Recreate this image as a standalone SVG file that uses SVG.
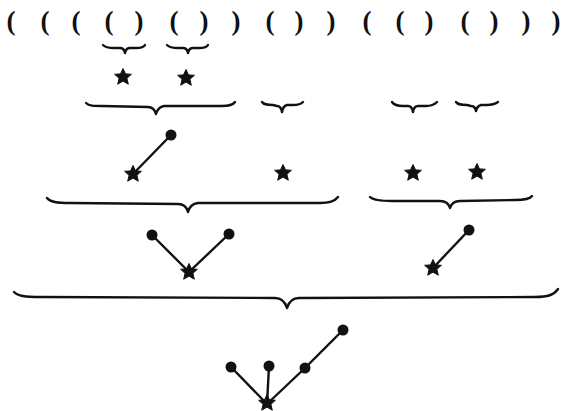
<svg xmlns="http://www.w3.org/2000/svg" width="563" height="411" viewBox="0 0 563 411">
<style>
.p{font-family:"Liberation Serif","DejaVu Serif",serif;font-size:27px;font-weight:bold;fill:#111;text-anchor:middle}
.br{fill:none;stroke:#111;stroke-width:2.4;stroke-linecap:round;stroke-linejoin:round}
.ln{stroke:#111;stroke-width:2.4;stroke-linecap:round}
.ball{fill:#111}
</style>
<defs>
<g id="star">
<polygon points="0,-8.5 2.5,-3.1 8.4,-2.7 3.9,1.3 5.3,7.2 0,4.1 -5.3,7.2 -3.9,1.3 -8.4,-2.7 -2.5,-3.1" fill="#111" stroke="#111" stroke-width="1" stroke-linejoin="round"/>
<circle r="4.3" fill="#111"/>
</g>
</defs>
<g id="parens">
<text class="p" x="11" y="30">(</text>
<text class="p" x="45" y="30">(</text>
<text class="p" x="76" y="30">(</text>
<text class="p" x="109" y="30">(</text>
<text class="p" x="139" y="30">)</text>
<text class="p" x="174" y="30">(</text>
<text class="p" x="204" y="30">)</text>
<text class="p" x="236" y="30">)</text>
<text class="p" x="270" y="30">(</text>
<text class="p" x="299" y="30">)</text>
<text class="p" x="331" y="30">)</text>
<text class="p" x="367" y="30">(</text>
<text class="p" x="400" y="30">(</text>
<text class="p" x="429" y="30">)</text>
<text class="p" x="465" y="30">(</text>
<text class="p" x="494" y="30">)</text>
<text class="p" x="526" y="30">)</text>
<text class="p" x="556" y="30">)</text>
</g>
<g id="braces">
<path class="br" d="M103,45 C105,47 109,48 114,48 L120,48 Q124,48 125,53 Q126,48 130,48 L136,48 C141,48 144,47 145,45"/>
<path class="br" d="M167,45 C169,47 173,48 178,48 L183,48 Q187,48 188,53 Q189,48 193,48 L199,48 C204,48 207,47 208,45"/>
<path class="br" d="M86,103 C89,106 94,106 102,106 L148,107 Q154,107 156,114 Q158,107 164,106 L222,106 C229,106 233,105 235,102"/>
<path class="br" d="M262,102 C264,105 268,105 273,105 L277,106 Q281,106 282,112 Q283,106 287,105 L293,105 C298,105 301,104 303,102"/>
<path class="br" d="M392,102 C394,105 398,106 403,106 L408,106 Q412,106 413,112 Q414,106 418,106 L426,106 C431,106 434,105 437,102"/>
<path class="br" d="M456,102 C458,105 462,105 467,105 L471,106 Q475,106 476,111 Q477,106 481,105 L487,105 C492,105 495,104 498,102"/>
<path class="br" d="M47,198 C50,202 57,203 70,203 L178,204 Q186,204 188,212 Q190,204 198,203 L320,203 C330,203 335,201 338,197"/>
<path class="br" d="M370,197 C373,200 380,201 392,201 L440,201 Q448,201 450,208 Q452,201 460,201 L515,200 C525,200 530,199 532,196"/>
<path class="br" d="M14,292 C18,296 25,297 40,297 L275,298 Q284,298 287,308 Q290,298 299,298 L535,297 C548,297 554,295 558,289"/>
</g>
<g id="connectors">
<line class="ln" x1="133" y1="174" x2="171" y2="135"/>
<line class="ln" x1="189" y1="272" x2="152" y2="235"/>
<line class="ln" x1="189" y1="272" x2="229" y2="234"/>
<line class="ln" x1="433" y1="268" x2="469" y2="230"/>
<line class="ln" x1="267" y1="404" x2="231" y2="367"/>
<line class="ln" x1="267" y1="404" x2="269" y2="366"/>
<line class="ln" x1="267" y1="404" x2="305" y2="368"/>
<line class="ln" x1="305" y1="368" x2="343" y2="330"/>
</g>
<g id="l1-stars">
<use href="#star" x="123" y="77"/>
<use href="#star" x="186" y="78"/>
</g>
<g id="l2-a"><use href="#star" x="133" y="174"/><circle class="ball" cx="171" cy="135" r="5.5"/></g>
<g id="l2-b"><use href="#star" x="283" y="173"/></g>
<g id="l2-c"><use href="#star" x="413" y="173"/></g>
<g id="l2-d"><use href="#star" x="477" y="172"/></g>
<g id="l3-a"><use href="#star" x="189" y="272"/><circle class="ball" cx="152" cy="235" r="5.5"/><circle class="ball" cx="229" cy="234" r="5.5"/></g>
<g id="l3-b"><use href="#star" x="433" y="268"/><circle class="ball" cx="469" cy="230" r="5.5"/></g>
<g id="root"><use href="#star" x="267" y="403"/><circle class="ball" cx="231" cy="367" r="5.5"/><circle class="ball" cx="269" cy="366" r="5.5"/><circle class="ball" cx="305" cy="368" r="5.5"/><circle class="ball" cx="343" cy="330" r="5.5"/></g>
</svg>
